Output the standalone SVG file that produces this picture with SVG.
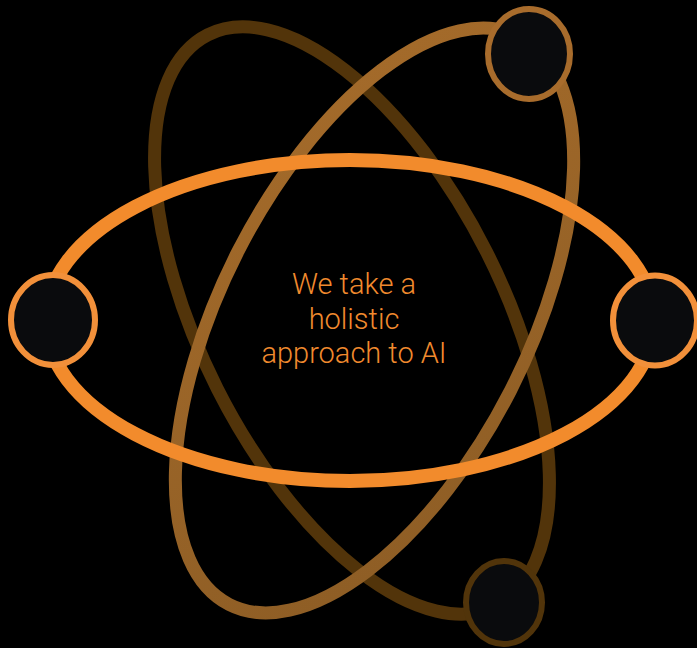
<svg xmlns="http://www.w3.org/2000/svg" width="697" height="648" viewBox="0 0 697 648">
  <defs>
    <linearGradient id="midGrad" gradientUnits="userSpaceOnUse" x1="560" y1="40" x2="190" y2="600">
      <stop offset="0" stop-color="#a86d2b"/>
      <stop offset="1" stop-color="#8a5b24"/>
    </linearGradient>
    <style>
      .orbit { fill: none; }
      .node { fill: #0a0b0d; stroke-width: 6; }
      .label { font-family: Roboto, "Liberation Sans", sans-serif; font-weight: 300; font-size: 29px; fill: #f08a2e; text-anchor: middle; }
    </style>
  </defs>
  <rect width="697" height="648" fill="#000"/>
  <g id="connectors">
    <ellipse id="orbit-dark" class="orbit" cx="352" cy="320.5" rx="320" ry="151" transform="rotate(63.2 352 320.5)" stroke="#52340a" stroke-width="13"/>
    <ellipse id="orbit-mid" class="orbit" cx="374.5" cy="320.5" rx="319" ry="153" transform="rotate(-62.9 374.5 320.5)" stroke="url(#midGrad)" stroke-width="13"/>
    <ellipse id="orbit-orange" class="orbit" cx="350" cy="320.5" rx="304" ry="160.5" stroke="#f28b2c" stroke-width="14"/>
  </g>
  <g id="node-left">
    <ellipse class="node" cx="53" cy="320" rx="42" ry="45" stroke="#f2903a"/>
  </g>
  <g id="node-right">
    <ellipse class="node" cx="655" cy="320.5" rx="42" ry="45" stroke="#f2903a"/>
  </g>
  <g id="node-top">
    <ellipse class="node" cx="529" cy="54" rx="41" ry="45" stroke="#a86c2c"/>
  </g>
  <g id="node-bottom">
    <ellipse class="node" cx="504" cy="602.5" rx="38" ry="41.5" stroke="#51340a" fill="#030303"/>
  </g>
  <g id="center-label">
    <text class="label" x="354" y="294">We take a</text>
    <text class="label" x="354" y="328.5">holistic</text>
    <text class="label" x="354" y="363">approach to AI</text>
  </g>
</svg>
